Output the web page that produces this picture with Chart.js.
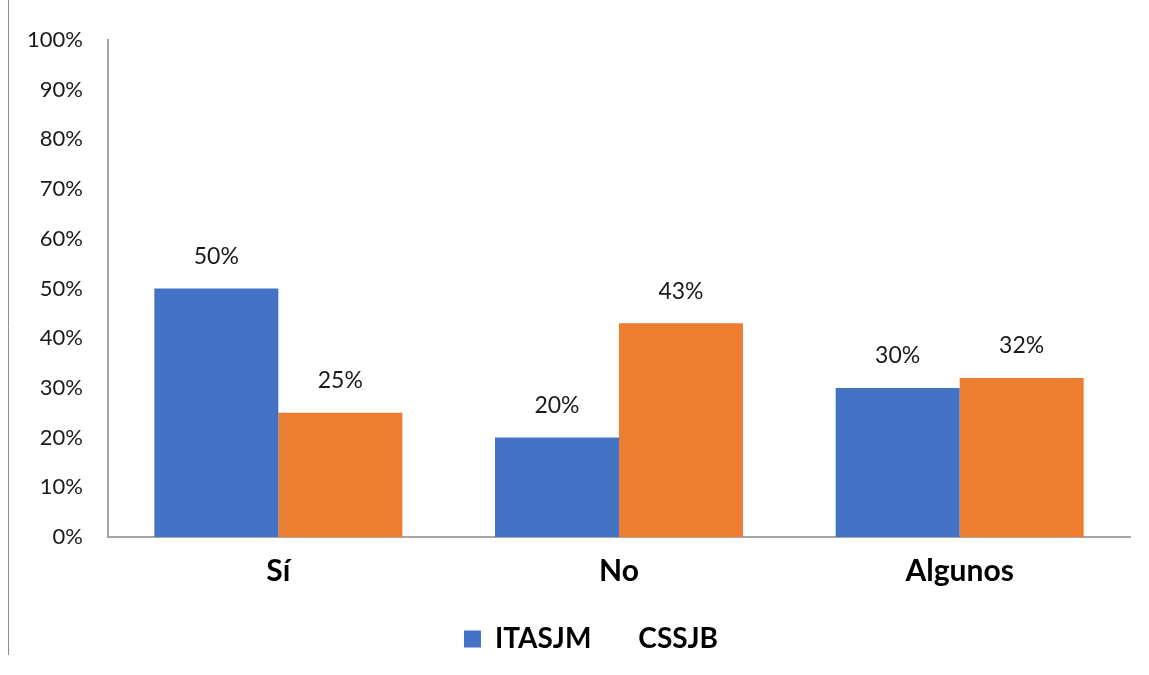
<!DOCTYPE html>
<html>
<head>
<meta charset="utf-8">
<script src="https://cdn.jsdelivr.net/npm/chart.js@4"></script>
<style>
  html, body { margin: 0; padding: 0; background: #fff; }
  #wrap { width: 1149px; height: 675px; position: relative; }
</style>
</head>
<body>
<div id="wrap"><canvas id="c" width="1149" height="675"></canvas></div>
<script>
// Survey responses by institution (percent)
const categories = ['Sí', 'No', 'Algunos'];
const seriesNames = ['ITASJM', 'CSSJB'];
const itasjm = [50, 20, 30];
const cssjb = [25, 43, 32];
const yTicks = [0, 10, 20, 30, 40, 50, 60, 70, 80, 90, 100];

const BLUE = '#4472C4';
const ORANGE = '#ED7D31';
const AXIS = '#A6A6A6';
const FONT = 'Lato, "Open Sans", sans-serif';

// Value labels above each bar
const valueLabels = {
  id: 'valueLabels',
  afterDatasetsDraw(chart) {
    const ctx = chart.ctx;
    ctx.save();
    ctx.font = '23px ' + FONT;
    ctx.fillStyle = '#1a1a1a';
    ctx.textAlign = 'center';
    ctx.textBaseline = 'middle';
    chart.data.datasets.forEach((ds, i) => {
      chart.getDatasetMeta(i).data.forEach((bar, j) => {
        ctx.fillText(ds.data[j] + '%', bar.x, bar.y - 32);
      });
    });
    ctx.restore();
  }
};

// Thin frame line along the left edge of the page
const leftRule = {
  id: 'leftRule',
  beforeDraw(chart) {
    const ctx = chart.ctx;
    ctx.save();
    ctx.strokeStyle = '#8c8c8c';
    ctx.lineWidth = 1;
    ctx.beginPath();
    ctx.moveTo(8.5, 0);
    ctx.lineTo(8.5, 655);
    ctx.stroke();
    ctx.restore();
  }
};

// Nudge the legend block a little to the right of the page centre
const legendShift = {
  id: 'legendShift',
  afterLayout(chart) {
    if (chart.legend) {
      chart.legend.left += 26;
      chart.legend.right += 26;
    }
  }
};

new Chart(document.getElementById('c'), {
  type: 'bar',
  data: {
    labels: categories,
    datasets: [
      { label: seriesNames[0], data: itasjm, backgroundColor: BLUE },
      { label: seriesNames[1], data: cssjb, backgroundColor: ORANGE }
    ]
  },
  options: {
    responsive: false,
    animation: false,
    layout: { padding: { top: 40, right: 19, bottom: 12, left: 0 } },
    datasets: { bar: { categoryPercentage: 0.728, barPercentage: 1.0 } },
    plugins: {
      tooltip: { enabled: false },
      legend: {
        position: 'bottom',
        labels: {
          boxWidth: 17,
          boxHeight: 17,
          padding: 16,
          color: '#000',
          font: { family: FONT, size: 28, weight: 'bold' },
          generateLabels(chart) {
            return chart.data.datasets.map((ds, i) => ({
              text: ds.label,
              fillStyle: i === 0 ? BLUE : '#ffffff',
              strokeStyle: i === 0 ? BLUE : '#ffffff',
              lineWidth: 0,
              datasetIndex: i,
              fontColor: '#000'
            }));
          }
        }
      }
    },
    scales: {
      x: {
        grid: { display: false, drawTicks: false },
        border: { display: true, color: AXIS, width: 2 },
        ticks: {
          color: '#000',
          padding: 16,
          font: { family: FONT, size: 30, weight: 'bold' }
        },
        afterFit(scale) { scale.height = 72; }
      },
      y: {
        min: 0,
        max: 100,
        grid: { display: false, drawTicks: false },
        border: { display: true, color: AXIS, width: 2 },
        afterBuildTicks(scale) { scale.ticks = yTicks.map(v => ({ value: v })); },
        ticks: {
          color: '#1a1a1a',
          padding: 25,
          font: { family: FONT, size: 22 },
          callback: v => v + '%'
        },
        afterFit(scale) { scale.width = 108; }
      }
    }
  },
  plugins: [valueLabels, leftRule, legendShift]
});
</script>
</body>
</html>
